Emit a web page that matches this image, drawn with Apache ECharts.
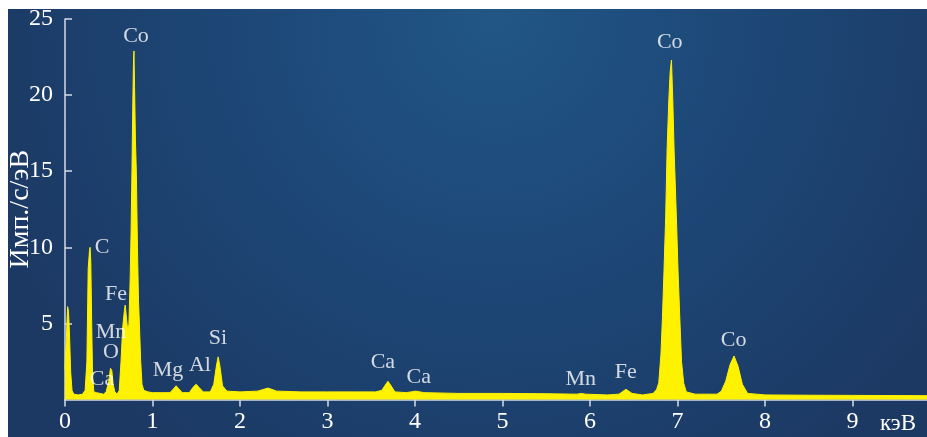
<!DOCTYPE html>
<html><head><meta charset="utf-8">
<script src="https://cdn.jsdelivr.net/npm/echarts@6/dist/echarts.min.js"></script>
<style>html,body{margin:0;padding:0;background:#fff}#c{width:927px;height:437px}</style>
</head><body><div id="c"></div>
<script>
// Energy (keV) and counts (imp/s/eV)
const energy = [0.000,0.015,0.030,0.040,0.050,0.065,0.080,0.100,0.150,0.200,0.230,0.250,0.265,0.280,0.287,0.295,0.305,0.315,0.330,0.360,0.400,0.440,0.470,0.500,0.520,0.535,0.550,0.570,0.595,0.620,0.640,0.660,0.680,0.688,0.700,0.715,0.730,0.745,0.755,0.765,0.775,0.782,0.788,0.795,0.805,0.815,0.828,0.840,0.850,0.865,0.880,0.900,0.950,1.000,1.100,1.200,1.240,1.270,1.300,1.340,1.420,1.470,1.500,1.530,1.580,1.660,1.700,1.730,1.750,1.770,1.800,1.850,2.000,2.200,2.320,2.420,2.700,3.000,3.300,3.550,3.620,3.660,3.690,3.720,3.770,3.900,4.010,4.100,4.500,5.000,5.500,5.850,5.900,5.950,6.200,6.330,6.410,6.480,6.600,6.720,6.760,6.785,6.810,6.827,6.845,6.864,6.880,6.900,6.915,6.930,6.945,6.960,6.986,7.005,7.025,7.045,7.070,7.100,7.200,7.450,7.500,7.550,7.600,7.645,7.690,7.740,7.800,8.000,8.500,9.000,9.850];
const counts = [2.0,4.0,6.1,5.8,4.5,1.8,0.6,0.35,0.3,0.35,0.6,2.5,8.6,9.8,10.0,9.0,5.0,1.6,0.5,0.45,0.4,0.35,0.5,1.2,2.05,1.9,1.0,0.5,0.35,0.6,2.5,4.8,5.9,6.2,5.5,4.6,4.9,8.0,11.0,15.0,19.5,22.0,22.9,20.5,17.0,15.0,10.0,6.5,5.0,2.5,1.0,0.6,0.5,0.45,0.45,0.45,0.7,0.9,0.7,0.45,0.45,0.85,1.0,0.8,0.5,0.5,1.0,2.2,2.8,2.2,0.9,0.55,0.5,0.55,0.75,0.55,0.5,0.5,0.5,0.5,0.6,0.95,1.2,0.95,0.5,0.45,0.55,0.45,0.4,0.4,0.38,0.35,0.4,0.35,0.3,0.35,0.67,0.4,0.3,0.4,0.65,1.1,3.0,5.4,8.5,12.0,16.4,19.7,21.5,22.3,19.7,16.4,12.0,8.5,5.4,2.5,1.07,0.5,0.35,0.35,0.55,1.2,2.3,2.86,2.2,1.0,0.4,0.3,0.28,0.27,0.25];
// Element annotations: label text and anchor in data coordinates (keV, counts)
const peakNames = ['Co','C','Fe','Mn','O','Ca','Mg','Al','Si','Ca','Ca','Mn','Fe','Co','Co'];
const peakKeV   = [0.811,0.423,0.583,0.525,0.525,0.423,1.176,1.542,1.748,3.632,4.043,5.894,6.408,6.910,7.640];
const peakY     = [23.85,10.03,6.94,4.44,3.13,1.35,1.94,2.27,4.05,2.47,1.48,1.35,1.81,23.45,3.91];
const xTicks = [0,1,2,3,4,5,6,7,8,9];
const yTicks = [5,10,15,20,25];
const xName = 'кэВ';
const yName = 'Имп./с/эВ';

const chart = echarts.init(document.getElementById('c'), null, {renderer:'canvas'});
const font = '"Liberation Serif","Times New Roman",serif';
const axisColor = '#d4dbe6';
const spectrum = energy.map((e,i)=>[e,counts[i]]);
const notes = peakNames.map((n,i)=>({value:[peakKeV[i],peakY[i]], name:n}));

chart.setOption({
  backgroundColor:'#ffffff',
  animation:false,
  graphic:[{
    type:'rect', z:-10, silent:true,
    shape:{x:8,y:9,width:919,height:428},
    style:{fill:{type:'radial', x:0.53, y:0.02, r:1.25,
      colorStops:[{offset:0,color:'#215685'},{offset:0.45,color:'#1d4878'},{offset:1,color:'#1c3964'}]}}
  }],
  grid:{left:65, right:0, top:19, bottom:37.5, containLabel:false, outerBoundsMode:'none'},
  xAxis:{
    type:'value', min:0, max:9.85,
    name:xName, nameLocation:'end', nameGap:-47, nameMoveOverlap:false,
    nameTextStyle:{color:'#ffffff', fontFamily:font, fontSize:23, align:'left', verticalAlign:'top', padding:[13,0,0,0]},
    axisLine:{show:true, lineStyle:{color:axisColor, width:1.5}},
    axisTick:{show:true, length:7, customValues:xTicks, lineStyle:{color:axisColor, width:1.5}},
    axisLabel:{color:'#ffffff', fontFamily:font, fontSize:24, margin:10, customValues:xTicks},
    splitLine:{show:false}
  },
  yAxis:{
    type:'value', min:0, max:25, interval:5,
    name:yName, nameLocation:'middle', nameGap:30, nameRotate:90, nameMoveOverlap:false,
    nameTextStyle:{color:'#ffffff', fontFamily:font, fontSize:28},
    axisLine:{show:true, lineStyle:{color:axisColor, width:1.5}},
    axisTick:{show:true, inside:true, length:7, customValues:yTicks, lineStyle:{color:axisColor, width:1.5}},
    axisLabel:{color:'#ffffff', fontFamily:font, fontSize:24, margin:12, customValues:yTicks},
    splitLine:{show:false}
  },
  series:[{
    type:'line', data:spectrum, showSymbol:false, smooth:false,
    lineStyle:{color:'#fff200', width:1},
    areaStyle:{color:'#fff200', opacity:1},
    z:3
  },{
    type:'scatter', data:notes, symbolSize:0, z:4,
    label:{show:true, position:'inside', formatter:p=>p.name, color:'#ffffff', fontFamily:font, fontSize:22}
  }]
});
</script></body></html>
